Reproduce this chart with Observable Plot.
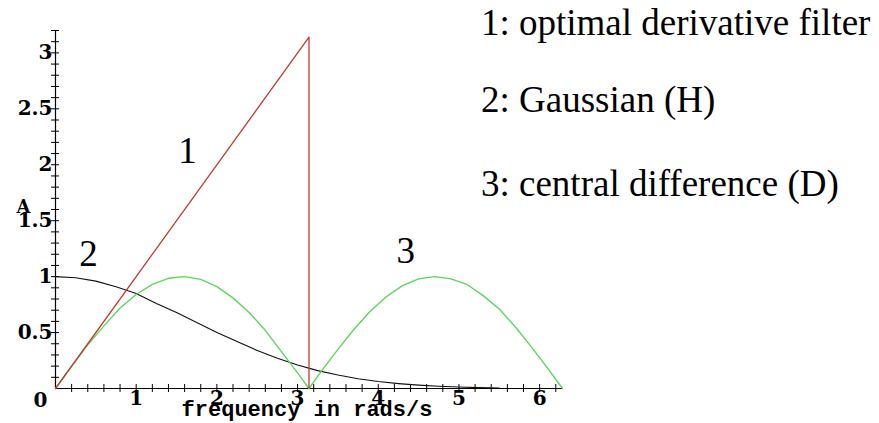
<!DOCTYPE html>
<html>
<head>
<meta charset="utf-8">
<script src="https://cdn.jsdelivr.net/npm/d3@7"></script>
<script src="https://cdn.jsdelivr.net/npm/@observablehq/plot@0.6"></script>
<style>
  body { margin: 0; background: #fff; }
  #wrap { position: relative; width: 879px; height: 423px; overflow: hidden; }
  .legend { position: absolute; left: 481px; font-family: "Liberation Serif", "Times New Roman", serif;
            font-size: 37px; line-height: 38px; color: #000; white-space: nowrap; }
</style>
</head>
<body>
<div id="wrap"></div>
<script>
// Curve 1: optimal derivative filter (ramp up to pi, then drop)
const optX = [0, 3.1416, 3.1416];
const optY = [0, 3.1416, 0];

// Curve 2: Gaussian (H)
const gaussX = [0, 0.25, 0.5, 0.75, 1, 1.25, 1.5, 1.75, 2, 2.25, 2.5, 2.75, 3, 3.25, 3.5, 3.75, 4, 4.25, 4.5, 4.75, 5, 5.25, 5.5];
const gaussY = [1.0, 0.99, 0.96, 0.91, 0.85, 0.76, 0.68, 0.59, 0.50, 0.42, 0.34, 0.27, 0.21, 0.16, 0.12, 0.087, 0.062, 0.044, 0.030, 0.020, 0.013, 0.008, 0.005];

// Curve 3: central difference (D)
const cdX = [0, 0.2, 0.4, 0.6, 0.8, 1.0, 1.2, 1.4, 1.6, 1.8, 2.0, 2.2, 2.4, 2.6, 2.8, 3.0, 3.1416, 3.3, 3.5, 3.7, 3.9, 4.1, 4.3, 4.5, 4.7, 4.9, 5.1, 5.3, 5.5, 5.7, 5.9, 6.1, 6.2832];
const cdY = [0, 0.2, 0.39, 0.56, 0.72, 0.84, 0.93, 0.985, 1.0, 0.975, 0.91, 0.81, 0.68, 0.52, 0.33, 0.14, 0, 0.16, 0.35, 0.53, 0.69, 0.82, 0.92, 0.98, 1.0, 0.98, 0.93, 0.83, 0.71, 0.55, 0.37, 0.18, 0];

// Curve number labels
const curveLabels = ["1", "2", "3"];
const curveLabelX = [1.636, 0.41, 4.34];
const curveLabelY = [2.125, 1.205, 1.23];

// Axes
const xMax = 6.2832;
const yMax = 3.2;
const xTickLabels = [1, 2, 3, 4, 5, 6];
const yTickLabels = [0.5, 1, 1.5, 2, 2.5, 3];
const xMinorTicks = d3.range(1, 32).map(i => i / 5);
const yMinorTicks = d3.range(1, 33).map(i => i / 10);
const xTitle = "frequency in rads/s";
const yTitle = "A";

const legendLines = ["1: optimal derivative filter", "2: Gaussian (H)", "3: central difference (D)"];

const pts = (xs, ys) => xs.map((x, i) => ({x, y: ys[i]}));

const chart = Plot.plot({
  width: 879,
  height: 423,
  marginLeft: 55,
  marginRight: 317,
  marginTop: 30,
  marginBottom: 35,
  style: {background: "transparent", overflow: "visible", fontFamily: "'DejaVu Serif', serif",
          fontWeight: "bold", fontSize: "20px", color: "#000"},
  x: {domain: [0, xMax]},
  y: {domain: [0, yMax]},
  marks: [
    // tick marks crossing the axes
    Plot.axisX({ticks: xMinorTicks, tickSize: 8, dy: -4, text: null, stroke: "#000", strokeOpacity: 1, label: null}),
    Plot.axisY({ticks: yMinorTicks, tickSize: 8, dx: 4, text: null, stroke: "#000", strokeOpacity: 1, label: null}),
    // tick labels
    Plot.axisX({ticks: xTickLabels, tickSize: 0, tickPadding: 2, tickFormat: d => String(d),
      fontSize: 20, fill: "#000", label: null}),
    Plot.axisY({ticks: yTickLabels, tickSize: 0, tickPadding: 3, tickFormat: d => String(d),
      fontSize: 20, fill: "#000", label: null}),
    // origin label
    Plot.text([0], {x: 0, y: 0, text: () => "0", dx: -15, dy: 12, fontSize: 20, fill: "#000"}),
    // axis lines
    Plot.ruleY([0], {x1: 0, x2: xMax, stroke: "#000", strokeWidth: 1.2}),
    Plot.ruleX([0], {y1: 0, y2: yMax, stroke: "#000", strokeWidth: 1.2}),
    // curves
    Plot.line(pts(gaussX, gaussY), {x: "x", y: "y", stroke: "#111", strokeWidth: 1.1}),
    Plot.line(pts(cdX, cdY), {x: "x", y: "y", stroke: "#5cd65c", strokeWidth: 1.4}),
    Plot.line(pts(optX, optY), {x: "x", y: "y", stroke: "#c23a2e", strokeWidth: 1.3}),
    // curve numbers
    Plot.text(curveLabels, {x: (d, i) => curveLabelX[i], y: (d, i) => curveLabelY[i], text: d => d,
      fontSize: 37, fontWeight: "normal", fontFamily: "'Liberation Serif', serif", fill: "#000"}),
    // axis titles
    Plot.text([xTitle], {x: xMax / 2, y: 0, text: d => d, dy: 20, dx: -2, fontSize: 22, fontWeight: "bold",
      fontFamily: "'Liberation Mono', monospace", fill: "#000"}),
    Plot.text([yTitle], {x: 0, y: 1.62, text: d => d, dx: -32, fontSize: 18, fill: "#000"})
  ]
});

const wrap = document.getElementById("wrap");
wrap.appendChild(chart);
const legendTops = [4, 81, 165];
legendLines.forEach((t, i) => {
  const d = document.createElement("div");
  d.className = "legend";
  d.style.top = legendTops[i] + "px";
  d.textContent = t;
  wrap.appendChild(d);
});
</script>
</body>
</html>
